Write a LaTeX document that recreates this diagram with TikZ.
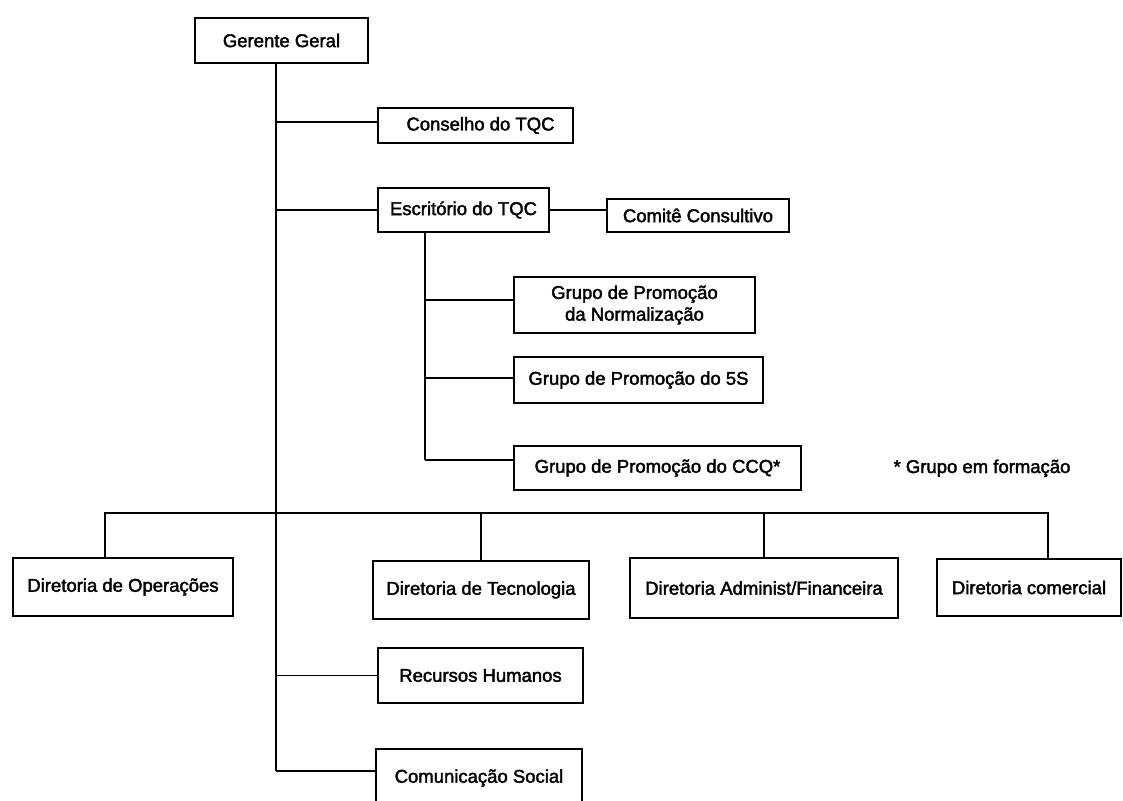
\documentclass[tikz,border=0pt]{standalone}
\usepackage{fontspec}
\setmainfont{Liberation Sans}[UprightFeatures={FakeBold=2}]
\begin{document}
\begin{tikzpicture}[x=1pt,y=-1pt,
  box/.style={draw, line width=1.8pt, inner sep=0pt, align=center,
    font=\fontsize{18.5}{21.7}\selectfont},
  link/.style={line width=1.8pt},
  note/.style={inner sep=0pt, font=\fontsize{18.5}{21.7}\selectfont}]
\useasboundingbox (0,0) rectangle (1123,800);
\clip (0,0) rectangle (1123,800);

% top level and staff units (box centre, width, height)
\node[box, minimum width=173, minimum height=45] (gg)     at (281.5,40.5) {Gerente Geral};
\node[box, minimum width=195, minimum height=35] (cons)   at (475.5,125.5) {\hspace*{10pt}Conselho do TQC};
\node[box, minimum width=171, minimum height=44] (escr)   at (463.5,210) {Escritório do TQC};
\node[box, minimum width=182, minimum height=33] (comite) at (698,215.5) {Comitê Consultivo};

% promotion groups under the TQC office
\node[box, minimum width=241, minimum height=56] (norm) at (634.5,305) {Grupo de Promoção\\da Normalização};
\node[box, minimum width=249, minimum height=46] (s5)   at (638.5,380) {Grupo de Promoção do 5S};
\node[box, minimum width=287, minimum height=44] (ccq)  at (657.5,468) {Grupo de Promoção do CCQ*};
\node[note, anchor=base] (nota) at (982,473) {* Grupo em formação};

% directorates
\node[box, minimum width=220, minimum height=58] (oper) at (123,587)  {Diretoria de Operações};
\node[box, minimum width=216, minimum height=58] (tec)  at (481,590)  {Diretoria de Tecnologia};
\node[box, minimum width=268, minimum height=60] (adm)  at (764,588)  {Diretoria Administ/Financeira};
\node[box, minimum width=184, minimum height=57] (com)  at (1029,587.5) {Diretoria comercial};

% other staff units (the last box runs off the bottom edge)
\node[box, minimum width=205, minimum height=55] (rh) at (480.5,675.5) {Recursos Humanos};
\node[box, minimum width=206, minimum height=62, text depth=8pt] (cs) at (479,780) {Comunicação Social};

% trunk lines and junctions
\coordinate (trunk)  at (276,63);
\coordinate (strunk) at (425,232);
\coordinate (bus)    at (276,513);

\draw[link] (trunk) -- (trunk |- 0,771);
\draw[link] (trunk |- 0,122) -- (cons.west |- 0,122);
\draw[link] (trunk |- escr.west) -- (escr.west);
\draw[link] (escr.east) -- (comite.west |- escr.east);

\draw[link] (strunk) -- (strunk |- 0,460);
\draw[link] (strunk |- 0,300) -- (norm.west |- 0,300);
\draw[link] (strunk |- 0,378) -- (s5.west |- 0,378);
\draw[link] (strunk |- 0,460) -- (ccq.west |- 0,460);

\draw[link] (oper.north -| 105,0) -- (105,513) -- (1048,513) -- (com.north -| 1048,0);
\draw[link] (tec.north) -- (tec.north |- bus);
\draw[link] (adm.north) -- (adm.north |- bus);

\draw[link] (trunk |- rh.west) -- (rh.west);
\draw[link] (trunk |- 0,771) -- (cs.west |- 0,771);
\end{tikzpicture}
\end{document}
